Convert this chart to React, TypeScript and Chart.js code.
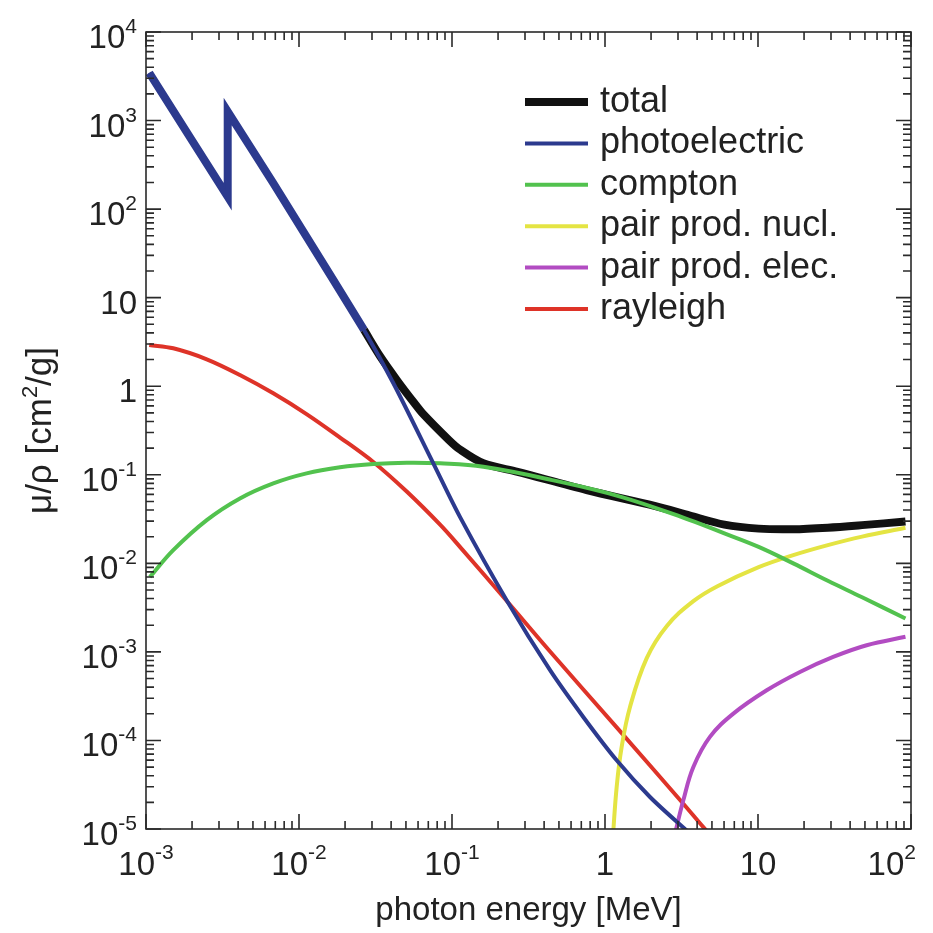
import React, { useEffect, useRef } from "react";
import { Chart, registerables } from "chart.js";

Chart.register(...registerables);

// ---------- data (photon energy in MeV, mu/rho in cm^2/g) ----------
const SERIES_LABELS = [
  "total",
  "photoelectric",
  "compton",
  "pair prod. nucl.",
  "pair prod. elec.",
  "rayleigh",
];

// the absorption edge at 0.00342 MeV is given as repeated points so the corners stay sharp
const TOTAL_E = [0.00105, 0.00342, 0.00342, 0.00342, 0.00342, 0.00679, 0.01675, 0.0266, 0.0338, 0.0436, 0.0567, 0.0648, 0.0955, 0.1127, 0.1604, 0.2685, 0.759, 2.138, 3.59, 6.03, 10.1, 17.0, 28.6, 47.9, 92];
const TOTAL_MU = [3450, 138, 138, 1264, 1264, 196, 15.85, 4.32, 2.193, 1.175, 0.6457, 0.4853, 0.2466, 0.1928, 0.1346, 0.1081, 0.0671, 0.04426, 0.03459, 0.02735, 0.02466, 0.0243, 0.0253, 0.027, 0.0296];

const PHOTO_E = [0.00105, 0.00342, 0.00342, 0.00342, 0.00342, 0.00679, 0.01675, 0.0266, 0.0413, 0.0755, 0.1127, 0.2275, 0.4375, 0.721, 1.192, 1.968, 3.33, 3.6];
const PHOTO_MU = [3450, 138, 138, 1264, 1264, 196, 15.85, 4.32, 1.087, 0.1346, 0.0335, 0.00384, 0.000621, 0.0001842, 0.0000597, 0.000023, 0.00001, 0.000009];

const COMPTON_E = [0.00106, 0.001507, 0.002495, 0.00411, 0.00679, 0.0112, 0.01854, 0.0306, 0.0506, 0.0836, 0.1604, 0.452, 1.273, 3.59, 6.03, 10.1, 17.0, 28.6, 47.9, 92];
const COMPTON_MU = [0.007, 0.0141, 0.0308, 0.0541, 0.08, 0.1038, 0.1213, 0.1321, 0.1367, 0.1346, 0.123, 0.0871, 0.0564, 0.0308, 0.0218, 0.01534, 0.00998, 0.00635, 0.00414, 0.00238];

const NUCL_E = [1.125, 1.192, 1.285, 1.457, 1.874, 2.53, 3.78, 5.43, 10.1, 17.0, 28.6, 47.9, 92];
const NUCL_MU = [0.000008, 0.0000298, 0.0000845, 0.000239, 0.000849, 0.00195, 0.00374, 0.00552, 0.00906, 0.01239, 0.01607, 0.02005, 0.0252];

const ELEC_E = [2.85, 3.25, 3.78, 4.85, 6.9, 11.4, 18.8, 31.0, 51.3, 92];
const ELEC_MU = [0.0000085, 0.0000211, 0.0000502, 0.0001096, 0.000201, 0.000369, 0.000594, 0.000878, 0.00119, 0.00148];

const RAYLEIGH_E = [0.00105, 0.001507, 0.002495, 0.00411, 0.00679, 0.0112, 0.01854, 0.0306, 0.0506, 0.0836, 0.1127, 0.2275, 0.4375, 1.192, 3.25, 4.39, 5.0];
const RAYLEIGH_MU = [2.92, 2.68, 2.014, 1.339, 0.832, 0.485, 0.2635, 0.1393, 0.0646, 0.0273, 0.01534, 0.00378, 0.00101, 0.0001406, 0.0000193, 0.0000105, 0.0000082];

const X_MAJOR = [1e-3, 1e-2, 1e-1, 1, 10, 100];
const X_TICK_LABELS: [string, string][] = [["10", "-3"], ["10", "-2"], ["10", "-1"], ["1", ""], ["10", ""], ["10", "2"]];
const Y_MAJOR = [1e-5, 1e-4, 1e-3, 1e-2, 1e-1, 1, 10, 100, 1000, 10000];
const Y_TICK_LABELS: [string, string][] = [["10", "-5"], ["10", "-4"], ["10", "-3"], ["10", "-2"], ["10", "-1"], ["1", ""], ["10", ""], ["10", "2"], ["10", "3"], ["10", "4"]];

const X_TITLE = "photon energy [MeV]";
const Y_TITLE_PARTS = ["\u03bc/\u03c1 [cm", "2", "/g]"];

// ---------- styles ----------
const NAVY = "#2c3a8e";
const BLACK = "#111111";
const GREEN = "#52c24e";
const YELLOW = "#e4e443";
const MAGENTA = "#b24cc2";
const RED = "#de3328";
const FONT = '"Liberation Sans", Arial, Helvetica, sans-serif';
const TEXT = "#222222";

const toPts = (e: number[], m: number[]) => e.map((x, i) => ({ x, y: m[i] }));

const decorPlugin = {
  id: "decor",
  afterDraw(chart: any) {
    const { ctx, chartArea: a } = chart;
    const xs = chart.scales.x;
    const ys = chart.scales.y;
    ctx.save();

    // frame
    ctx.strokeStyle = "#2a2a2a";
    ctx.lineWidth = 1.6;
    ctx.strokeRect(a.left, a.top, a.right - a.left, a.bottom - a.top);

    // ticks (inward, all four sides)
    ctx.beginPath();
    const MAJ = 15;
    const MIN = 8;
    for (let i = 0; i < X_MAJOR.length; i++) {
      const base = X_MAJOR[i];
      const last = i === X_MAJOR.length - 1;
      for (let m = 1; m <= (last ? 1 : 9); m++) {
        const px = xs.getPixelForValue(base * m);
        const len = m === 1 ? MAJ : MIN;
        ctx.moveTo(px, a.bottom);
        ctx.lineTo(px, a.bottom - len);
        ctx.moveTo(px, a.top);
        ctx.lineTo(px, a.top + len);
      }
    }
    for (let i = 0; i < Y_MAJOR.length; i++) {
      const base = Y_MAJOR[i];
      const last = i === Y_MAJOR.length - 1;
      for (let m = 1; m <= (last ? 1 : 9); m++) {
        const py = ys.getPixelForValue(base * m);
        const len = m === 1 ? MAJ : MIN;
        ctx.moveTo(a.left, py);
        ctx.lineTo(a.left + len, py);
        ctx.moveTo(a.right, py);
        ctx.lineTo(a.right - len, py);
      }
    }
    ctx.stroke();

    // tick labels with superscripts
    ctx.fillStyle = TEXT;
    ctx.textBaseline = "alphabetic";
    ctx.textAlign = "left";
    const SIZE = 33;
    const SUP = 21;
    const drawLabel = (base: string, sup: string, x: number, y: number, align: string, raise: number, maxRight: number) => {
      ctx.font = `${SIZE}px ${FONT}`;
      const bw = ctx.measureText(base).width;
      ctx.font = `${SUP}px ${FONT}`;
      const sw = sup ? ctx.measureText(sup).width : 0;
      const tw = bw + sw;
      let left = align === "center" ? x - tw / 2 : x - tw;
      if (left + tw > maxRight) left = maxRight - tw;
      ctx.font = `${SIZE}px ${FONT}`;
      ctx.fillText(base, left, y);
      if (sup) {
        ctx.font = `${SUP}px ${FONT}`;
        ctx.fillText(sup, left + bw, y - raise);
      }
    };
    X_MAJOR.forEach((v, i) => {
      const px = xs.getPixelForValue(v);
      drawLabel(X_TICK_LABELS[i][0], X_TICK_LABELS[i][1], px, a.bottom + 46, "center", 16, a.right + 5);
    });
    Y_MAJOR.forEach((v, i) => {
      const py = ys.getPixelForValue(v);
      drawLabel(Y_TICK_LABELS[i][0], Y_TICK_LABELS[i][1], a.left - 9, py + 16, "right", 15, 9999);
    });

    // x title
    ctx.font = `${SIZE}px ${FONT}`;
    ctx.textAlign = "center";
    ctx.fillText(X_TITLE, (a.left + a.right) / 2, a.bottom + 91);

    // y title (rotated)
    const TS = 35;
    const TSUP = 22;
    ctx.save();
    ctx.translate(51, (a.top + a.bottom) / 2);
    ctx.rotate(-Math.PI / 2);
    ctx.textAlign = "left";
    ctx.font = `${TS}px ${FONT}`;
    const w0 = ctx.measureText(Y_TITLE_PARTS[0]).width;
    const w2 = ctx.measureText(Y_TITLE_PARTS[2]).width;
    ctx.font = `${TSUP}px ${FONT}`;
    const w1 = ctx.measureText(Y_TITLE_PARTS[1]).width;
    let sx = -(w0 + w1 + w2) / 2;
    ctx.font = `${TS}px ${FONT}`;
    ctx.fillText(Y_TITLE_PARTS[0], sx, 0);
    sx += w0;
    ctx.font = `${TSUP}px ${FONT}`;
    ctx.fillText(Y_TITLE_PARTS[1], sx, -14);
    sx += w1;
    ctx.font = `${TS}px ${FONT}`;
    ctx.fillText(Y_TITLE_PARTS[2], sx, 0);
    ctx.restore();

    // legend inside plot area
    const LX = a.left + 379;
    const LY = a.top + 70;
    const ROW = 41.4;
    chart.data.datasets.forEach((ds: any, i: number) => {
      const y = LY + i * ROW;
      ctx.beginPath();
      ctx.strokeStyle = ds.legendColor || ds.borderColor;
      ctx.lineWidth = ds.legendWidth || ds.borderWidth;
      ctx.lineCap = "butt";
      ctx.moveTo(LX, y);
      ctx.lineTo(LX + 63, y);
      ctx.stroke();
      ctx.fillStyle = TEXT;
      ctx.font = `36px ${FONT}`;
      ctx.textAlign = "left";
      ctx.fillText(ds.label, LX + 75, y + 10);
    });

    ctx.restore();
  },
};

export default function App() {
  const canvasRef = useRef<HTMLCanvasElement | null>(null);

  useEffect(() => {
    document.body.style.margin = "0";
    const canvas = canvasRef.current;
    if (!canvas) return;
    const chart = new Chart(canvas, {
      type: "line",
      data: {
        datasets: [
          {
            label: SERIES_LABELS[0],
            data: toPts(TOTAL_E, TOTAL_MU),
            borderColor: BLACK,
            legendColor: BLACK,
            legendWidth: 8,
            borderWidth: 8,
            tension: 0.3,
            order: 1,
            clip: 0,
            segment: {
              borderColor: (c: any) => (c.p1.parsed.x <= 0.0267 ? NAVY : BLACK),
            },
          } as any,
          {
            label: SERIES_LABELS[1],
            data: toPts(PHOTO_E, PHOTO_MU),
            borderColor: NAVY,
            borderWidth: 4,
            tension: 0.3,
            clip: 0,
          },
          {
            label: SERIES_LABELS[2],
            data: toPts(COMPTON_E, COMPTON_MU),
            borderColor: GREEN,
            borderWidth: 4,
            tension: 0.4,
            clip: 0,
          },
          {
            label: SERIES_LABELS[3],
            data: toPts(NUCL_E, NUCL_MU),
            borderColor: YELLOW,
            borderWidth: 4,
            tension: 0.4,
            clip: 0,
          },
          {
            label: SERIES_LABELS[4],
            data: toPts(ELEC_E, ELEC_MU),
            borderColor: MAGENTA,
            borderWidth: 4,
            tension: 0.4,
            clip: 0,
          },
          {
            label: SERIES_LABELS[5],
            data: toPts(RAYLEIGH_E, RAYLEIGH_MU),
            borderColor: RED,
            borderWidth: 4,
            tension: 0.35,
            clip: 0,
          },
        ],
      },
      options: {
        responsive: false,
        animation: false,
        devicePixelRatio: 1,
        layout: { padding: { left: 146, top: 32, right: 22, bottom: 104 } },
        elements: { point: { radius: 0, hoverRadius: 0 }, line: { fill: false } },
        scales: {
          x: { type: "logarithmic", min: 1e-3, max: 100, display: false },
          y: { type: "logarithmic", min: 1e-5, max: 1e4, display: false },
        },
        plugins: {
          legend: { display: false },
          tooltip: { enabled: false },
        },
      },
      plugins: [decorPlugin],
    } as any);
    return () => chart.destroy();
  }, []);

  return (
    <div style={{ position: "absolute", left: 0, top: 0, width: 933, height: 933, background: "#fff" }}>
      <canvas ref={canvasRef} width={933} height={933} />
    </div>
  );
}
